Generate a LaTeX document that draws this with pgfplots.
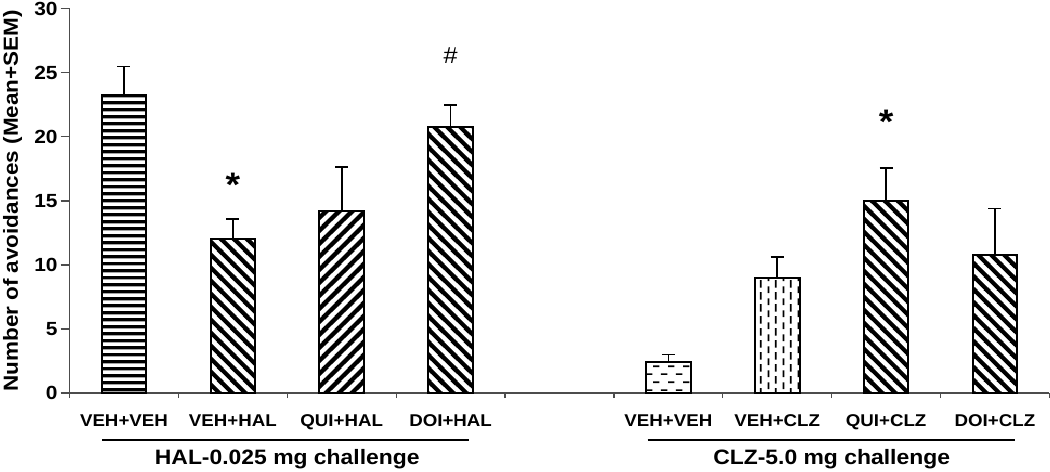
\documentclass[border=0pt]{standalone}
\usepackage{fontspec}
\setmainfont{Liberation Sans}[FakeStretch=1.1]
\usepackage{pgfplots}
\pgfplotsset{compat=1.18}
\usetikzlibrary{patterns}

% fill patterns of the bars
\pgfdeclarepatternformonly{hstripes}{\pgfqpoint{0pt}{0pt}}{\pgfqpoint{3.6pt}{3.6pt}}{\pgfqpoint{3.6pt}{3.6pt}}{%
  \pgfsetlinewidth{1.9pt}%
  \pgfpathmoveto{\pgfqpoint{-0.5pt}{1.8pt}}\pgfpathlineto{\pgfqpoint{4.1pt}{1.8pt}}%
  \pgfusepath{stroke}}
\pgfdeclarepatternformonly{nwstripes}{\pgfqpoint{0pt}{0pt}}{\pgfqpoint{6.5pt}{6.5pt}}{\pgfqpoint{6.5pt}{6.5pt}}{%
  \pgfsetlinewidth{2.2pt}%
  \pgfpathmoveto{\pgfqpoint{-3.25pt}{3.25pt}}\pgfpathlineto{\pgfqpoint{3.25pt}{-3.25pt}}%
  \pgfpathmoveto{\pgfqpoint{-1pt}{7.5pt}}\pgfpathlineto{\pgfqpoint{7.5pt}{-1pt}}%
  \pgfpathmoveto{\pgfqpoint{3.25pt}{9.75pt}}\pgfpathlineto{\pgfqpoint{9.75pt}{3.25pt}}%
  \pgfusepath{stroke}}
\pgfdeclarepatternformonly{nestripes}{\pgfqpoint{0pt}{0pt}}{\pgfqpoint{6.5pt}{6.5pt}}{\pgfqpoint{6.5pt}{6.5pt}}{%
  \pgfsetlinewidth{2.2pt}%
  \pgfpathmoveto{\pgfqpoint{-1pt}{-1pt}}\pgfpathlineto{\pgfqpoint{7.5pt}{7.5pt}}%
  \pgfpathmoveto{\pgfqpoint{3.25pt}{-3.25pt}}\pgfpathlineto{\pgfqpoint{9.75pt}{3.25pt}}%
  \pgfpathmoveto{\pgfqpoint{-3.25pt}{3.25pt}}\pgfpathlineto{\pgfqpoint{3.25pt}{9.75pt}}%
  \pgfusepath{stroke}}
\pgfdeclarepatternformonly{hdash}{\pgfqpoint{0pt}{0pt}}{\pgfqpoint{7.5pt}{7.8pt}}{\pgfqpoint{7.5pt}{7.8pt}}{%
  \pgfsetlinewidth{0.8pt}%
  \pgfpathmoveto{\pgfqpoint{0.5pt}{1.95pt}}\pgfpathlineto{\pgfqpoint{3.8pt}{1.95pt}}%
  \pgfpathmoveto{\pgfqpoint{4.25pt}{5.85pt}}\pgfpathlineto{\pgfqpoint{7.55pt}{5.85pt}}%
  \pgfusepath{stroke}}
\pgfdeclarepatternformonly{vdash}{\pgfqpoint{0pt}{0pt}}{\pgfqpoint{7.5pt}{5.8pt}}{\pgfqpoint{7.5pt}{5.8pt}}{%
  \pgfsetlinewidth{0.9pt}%
  \pgfpathmoveto{\pgfqpoint{1.875pt}{0.4pt}}\pgfpathlineto{\pgfqpoint{1.875pt}{3.9pt}}%
  \pgfpathmoveto{\pgfqpoint{5.625pt}{3.3pt}}\pgfpathlineto{\pgfqpoint{5.625pt}{6.8pt}}%
  \pgfpathmoveto{\pgfqpoint{5.625pt}{-0.5pt}}\pgfpathlineto{\pgfqpoint{5.625pt}{1.0pt}}%
  \pgfusepath{stroke}}

\pgfplotsset{
  avbar/.style={ybar, bar shift=0pt, bar width=0.41, draw=black, line width=1pt,
    error bars/y dir=plus, error bars/y explicit,
    error bars/error bar style={line width=0.8pt, black},
    error bars/error mark options={rotate=90, mark size=3.25pt, line width=0.8pt, black}},
}

\begin{document}
\begin{tikzpicture}
\begin{axis}[
  scale only axis, width=489.5pt, height=192pt,
  xmin=-0.5, xmax=8.5, ymin=0, ymax=30,
  axis lines=left, axis line style={-, black!70, line width=0.6pt},
  tick align=outside, major tick length=4.5pt, minor tick length=2.5pt,
  tick style={black!70, line width=0.6pt},
  ytick={0,5,...,30},
  xtick={0,1,2,3,5,6,7,8},
  xticklabels={VEH+VEH,VEH+HAL,QUI+HAL,DOI+HAL,VEH+VEH,VEH+CLZ,QUI+CLZ,DOI+CLZ},
  major x tick style={draw=none},
  minor xtick={-0.5,0.5,...,8.5},
  xticklabel style={font=\fontsize{8.5}{9}\selectfont\bfseries, yshift=-2.7pt},
  yticklabel style={font=\fontsize{9.5}{10}\selectfont\bfseries, inner xsep=0pt, inner ysep=1pt, xshift=-1.3pt},
  /pgf/number format/assume math mode=true,
  ylabel={Number of avoidances (Mean+SEM)},
  ylabel style={font=\fontsize{10.2}{11}\selectfont\bfseries, inner sep=1.5pt,
    at={(axis description cs:-0.0582,0.5)}, anchor=center},
  clip=false,
]
  % HAL-0.025 mg challenge
  \addplot[pattern=hstripes, avbar] coordinates {(0,23.3) +- (0,2.2)};
  \addplot[pattern=nwstripes, avbar] coordinates {(1,12.0) +- (0,1.6)};
  \addplot[pattern=nestripes, avbar] coordinates {(2,14.25) +- (0,3.4)};
  \addplot[pattern=nwstripes, avbar] coordinates {(3,20.8) +- (0,1.7)};
  % CLZ-5.0 mg challenge
  \addplot[pattern=hdash, avbar] coordinates {(5,2.4) +- (0,0.6)};
  \addplot[pattern=vdash, avbar] coordinates {(6,9.0) +- (0,1.6)};
  \addplot[pattern=nwstripes, avbar] coordinates {(7,15.0) +- (0,2.55)};
  \addplot[pattern=nwstripes, avbar] coordinates {(8,10.8) +- (0,3.6)};

  \node[anchor=north, inner sep=0pt, font=\fontsize{17}{17}\selectfont\bfseries] at (axis cs:1,17.2) {*};
  \node[anchor=north, inner sep=0pt, font=\fontsize{17}{17}\selectfont\bfseries] at (axis cs:7,22.1) {*};
  \node[anchor=north, inner sep=0pt, font=\fontsize{11.5}{12}\selectfont] at (axis cs:3,27.0) {\#};

  \draw[line width=1pt] ([yshift=-23.3pt]axis cs:-0.2,0) -- ([yshift=-23.3pt]axis cs:3.17,0);
  \draw[line width=1pt] ([yshift=-23.3pt]axis cs:4.81,0) -- ([yshift=-23.3pt]axis cs:8.18,0);
  \node[inner sep=1.5pt, font=\fontsize{10.4}{11}\selectfont\bfseries] at ([yshift=-32.8pt]axis cs:1.5,0) {HAL-0.025 mg challenge};
  \node[inner sep=1.5pt, font=\fontsize{10.4}{11}\selectfont\bfseries] at ([yshift=-32.8pt]axis cs:6.5,0) {CLZ-5.0 mg challenge};
\end{axis}
\end{tikzpicture}
\end{document}
